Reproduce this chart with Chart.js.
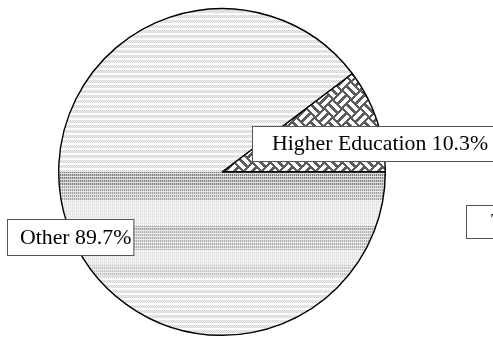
<!DOCTYPE html>
<html>
<head>
<meta charset="utf-8">
<script src="https://cdn.jsdelivr.net/npm/chart.js@4/dist/chart.umd.min.js"></script>
<style>
  html, body { margin: 0; padding: 0; background: #ffffff; overflow: hidden; }
  #wrap { width: 493px; height: 337px; position: relative; }
</style>
</head>
<body>
<div id="wrap"><canvas id="pie" width="493" height="337"></canvas></div>
<script>
// Share of spending by sector (percent)
const categories = ['Higher Education', 'Other'];
const shares = [10.3, 89.7];
const totalLabel = 'Total';

const FONT = '21.8px "Liberation Serif", "Times New Roman", serif';
const PAD = { left: 58, top: 8, right: 107, bottom: 1 };

// Basket-weave fill: white strips on dark grey, rotated 45 degrees
let weaveCache = null;
function weavePattern() {
  if (weaveCache) return weaveCache;
  const P = 18;
  const c = document.createElement('canvas');
  c.width = P; c.height = P;
  const g = c.getContext('2d');
  const img = g.createImageData(P, P);
  const mod = (a, m) => ((a % m) + m) % m;
  for (let y = 0; y < P; y++) {
    for (let x = 0; x < P; x++) {
      const u = x + y, v = x - y;
      const cu = Math.floor(u / P), cv = Math.floor(v / P);
      const typeA = mod(cu + cv, 2) === 0;
      const along = typeA ? mod(u, P) : mod(v, P);
      const across = typeA ? mod(v, P / 2) : mod(u, P / 2);
      const white = across >= 2 && across <= 6 && along >= 1 && along <= P - 2;
      const val = white ? 255 : 92;
      const i = (y * P + x) * 4;
      img.data[i] = img.data[i + 1] = img.data[i + 2] = val;
      img.data[i + 3] = 255;
    }
  }
  g.putImageData(img, 0, 0);
  weaveCache = g.createPattern(c, 'repeat');
  return weaveCache;
}

// Horizontal banded fill, darker just below the centre line
let bandCache = null;
function bandPattern() {
  if (bandCache) return bandCache;
  const W = 493, H = 337;
  const cy = Math.round(PAD.top + (H - PAD.top - PAD.bottom) / 2);
  const bands = [
    [0, 13, 0.58], [13, 28, 0.42], [28, 54, 0.14], [54, 58, 0.45],
    [58, 78, 0.36], [78, 93, 0.14], [93, 103, 0.28]
  ];
  const c = document.createElement('canvas');
  c.width = W; c.height = H;
  const g = c.getContext('2d');
  const img = g.createImageData(W, H);
  for (let y = 0; y < H; y++) {
    const dy = y - cy;
    let d = -1;
    for (const b of bands) if (dy >= b[0] && dy < b[1]) d = b[2];
    for (let x = 0; x < W; x++) {
      let val;
      if (d < 0) {
        const r = y % 5;
        if (r < 3) val = ((x + (r === 1 ? 1 : 0)) % 2 === 0) ? 210 : 241;
        else val = 252;
      } else {
        const r = y % 3;
        if (r === 2) val = Math.round(248 - d * 40);
        else val = (x % 2 === 0) ? Math.round(255 - d * 220) : Math.round(255 - d * 100);
      }
      const i = (y * W + x) * 4;
      img.data[i] = img.data[i + 1] = img.data[i + 2] = val;
      img.data[i + 3] = 255;
    }
  }
  g.putImageData(img, 0, 0);
  bandCache = g.createPattern(c, 'no-repeat');
  return bandCache;
}

// Boxed data labels
const boxLabels = {
  id: 'boxLabels',
  afterDatasetsDraw(chart) {
    const arcs = chart.getDatasetMeta(0).data;
    if (!arcs.length) return;
    const cx = arcs[0].x, cy = arcs[0].y;
    const ctx = chart.ctx;
    const total = shares.reduce((a, b) => a + b, 0);
    const items = [
      { text: categories[0] + ' ' + shares[0].toFixed(1) + '%', left: cx + 30, top: cy - 46, h: 35, pad: 20, tail: 14 },
      { text: categories[1] + ' ' + shares[1].toFixed(1) + '%', left: cx - 215, top: cy + 47, h: 36, pad: 13, tail: 2 },
      { text: totalLabel + ' ' + total.toFixed(1) + '%', left: cx + 244, top: cy + 33, h: 33, pad: 25, tail: 10 }
    ];
    ctx.save();
    ctx.font = FONT;
    for (const it of items) {
      const w = ctx.measureText(it.text).width + it.pad + it.tail;
      ctx.fillStyle = '#ffffff';
      ctx.fillRect(it.left, it.top, w, it.h);
      ctx.strokeStyle = '#555555';
      ctx.lineWidth = 1;
      ctx.strokeRect(it.left + 0.5, it.top + 0.5, w, it.h);
      ctx.fillStyle = '#000000';
      ctx.textBaseline = 'middle';
      ctx.textAlign = 'left';
      ctx.fillText(it.text, it.left + it.pad, it.top + it.h / 2 + 1);
    }
    ctx.restore();
  }
};

new Chart(document.getElementById('pie'), {
  type: 'pie',
  data: {
    labels: categories,
    datasets: [{
      data: shares,
      backgroundColor: (c) => c.dataIndex === 0 ? weavePattern() : bandPattern(),
      borderColor: '#000000',
      borderWidth: 1.4
    }]
  },
  options: {
    responsive: false,
    animation: false,
    rotation: 90 - 360 * shares[0] / 100,
    layout: { padding: PAD },
    plugins: {
      legend: { display: false },
      tooltip: { enabled: false },
      title: { display: false }
    }
  },
  plugins: [boxLabels]
});
</script>
</body>
</html>
